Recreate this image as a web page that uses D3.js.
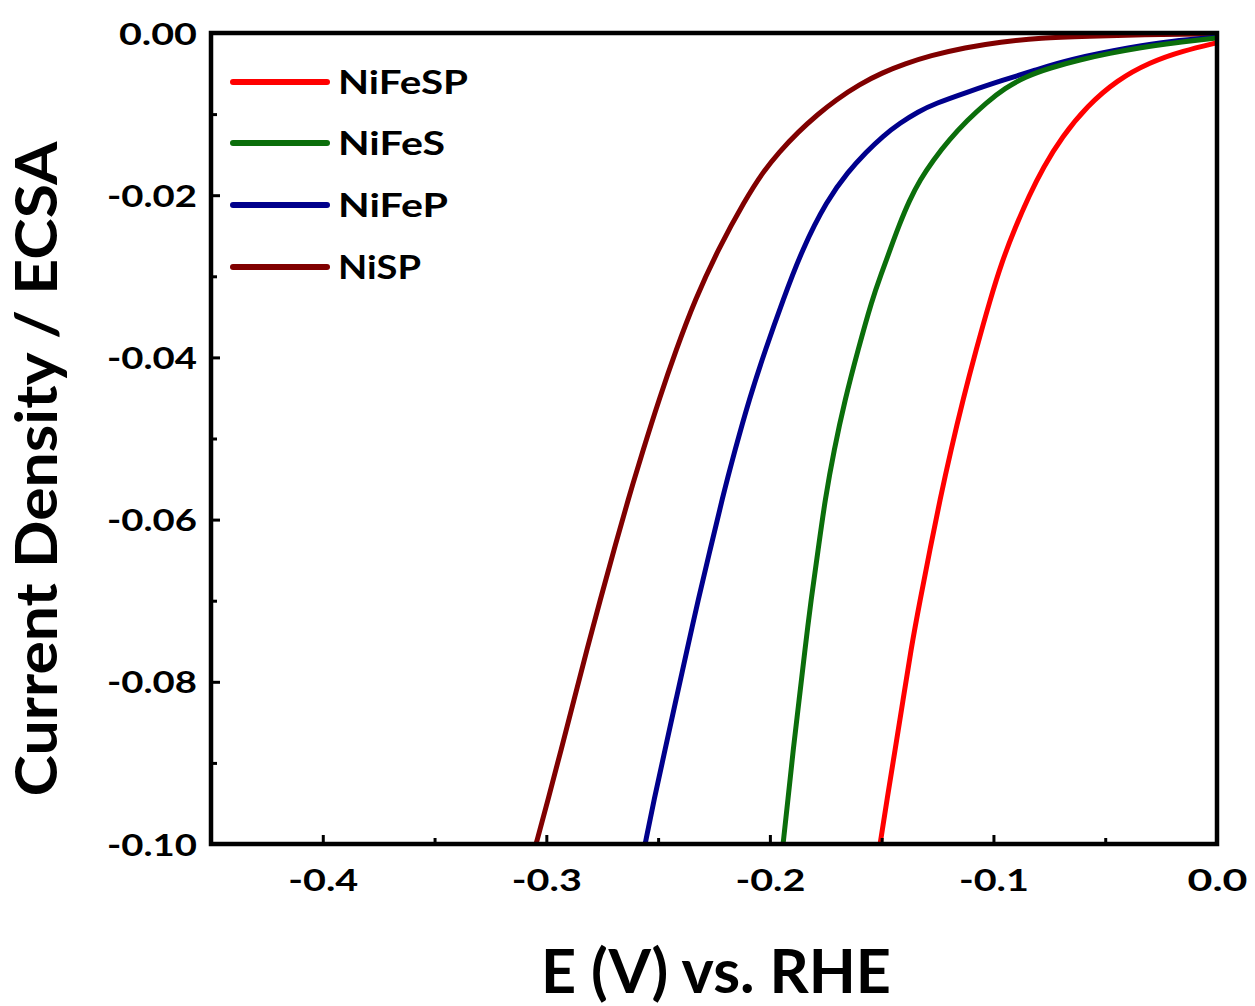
<!DOCTYPE html>
<html>
<head>
<meta charset="utf-8">
<script src="https://cdn.jsdelivr.net/npm/d3@7"></script>
<style>
  html, body { margin: 0; padding: 0; background: #fff; }
  svg { display: block; }
  text { font-family: Lato, "Open Sans", sans-serif; font-weight: 700; fill: #000; }
</style>
</head>
<body>
<svg id="chart" width="1255" height="1006"></svg>
<script>
// ---- Data (E in V vs RHE, current density / ECSA) ----
const seriesNames = ["NiFeSP", "NiFeS", "NiFeP", "NiSP"];
const seriesColors = ["#ff0000", "#0b6e0b", "#00008c", "#800000"];

const NiFeSP = [
  [-0.1507, -0.1000], [-0.1476, -0.0945], [-0.1440, -0.0884], [-0.1404, -0.0822],
  [-0.1369, -0.0760], [-0.1328, -0.0699], [-0.1284, -0.0637], [-0.1239, -0.0575],
  [-0.1190, -0.0514], [-0.1136, -0.0452], [-0.1078, -0.0391], [-0.1015, -0.0329],
  [-0.0962, -0.0282], [-0.0903, -0.0240], [-0.0841, -0.0201], [-0.0778, -0.0166],
  [-0.0693, -0.0128], [-0.0581, -0.0090], [-0.0447, -0.0058], [-0.0300, -0.0036],
  [-0.0152, -0.0022], [0.0000, -0.0012]
];
const NiFeS = [
  [-0.1941, -0.1000], [-0.1919, -0.0945], [-0.1896, -0.0884], [-0.1869, -0.0822],
  [-0.1843, -0.0760], [-0.1816, -0.0699], [-0.1784, -0.0637], [-0.1753, -0.0575],
  [-0.1713, -0.0514], [-0.1664, -0.0452], [-0.1606, -0.0391], [-0.1543, -0.0329],
  [-0.1503, -0.0298], [-0.1462, -0.0267], [-0.1422, -0.0237], [-0.1377, -0.0207],
  [-0.1328, -0.0181], [-0.1270, -0.0157], [-0.1199, -0.0132], [-0.1118, -0.0108],
  [-0.1033, -0.0086], [-0.0948, -0.0068], [-0.0859, -0.0054], [-0.0747, -0.0043],
  [-0.0613, -0.0033], [-0.0479, -0.0025], [-0.0344, -0.0018], [-0.0188, -0.0012],
  [0.0000, -0.0006]
];
const NiFeP = [
  [-0.2558, -0.1000], [-0.2518, -0.0945], [-0.2469, -0.0884], [-0.2420, -0.0822],
  [-0.2370, -0.0760], [-0.2321, -0.0699], [-0.2267, -0.0637], [-0.2214, -0.0575],
  [-0.2156, -0.0514], [-0.2093, -0.0452], [-0.2021, -0.0391], [-0.1941, -0.0329],
  [-0.1856, -0.0267], [-0.1744, -0.0206], [-0.1650, -0.0171], [-0.1570, -0.0147],
  [-0.1494, -0.0127], [-0.1418, -0.0111], [-0.1337, -0.0097], [-0.1261, -0.0087],
  [-0.1118, -0.0073], [-0.0957, -0.0058], [-0.0814, -0.0046], [-0.0671, -0.0033],
  [-0.0376, -0.0017], [-0.0210, -0.0010], [0.0000, -0.0005]
];
const NiSP = [
  [-0.3046, -0.1000], [-0.2992, -0.0945], [-0.2934, -0.0884], [-0.2876, -0.0822],
  [-0.2818, -0.0760], [-0.2759, -0.0699], [-0.2697, -0.0637], [-0.2634, -0.0575],
  [-0.2567, -0.0514], [-0.2496, -0.0452], [-0.2420, -0.0391], [-0.2335, -0.0329],
  [-0.2232, -0.0267], [-0.2111, -0.0206], [-0.2030, -0.0171], [-0.1959, -0.0147],
  [-0.1874, -0.0122], [-0.1784, -0.0100], [-0.1708, -0.0083], [-0.1597, -0.0063],
  [-0.1498, -0.0049], [-0.1395, -0.0038], [-0.1284, -0.0028], [-0.1127, -0.0018],
  [-0.0970, -0.0011], [-0.0792, -0.0006], [-0.0568, -0.0004], [-0.0344, -0.0002],
  [0.0000, -0.0001]
];
const allSeries = [NiFeSP, NiFeS, NiFeP, NiSP];

const xMajorTicks = [-0.4, -0.3, -0.2, -0.1, 0.0];
const xMinorTicks = [-0.35, -0.25, -0.15, -0.05];
const yMajorTicks = [0.00, -0.02, -0.04, -0.06, -0.08, -0.10];
const yMinorTicks = [-0.01, -0.03, -0.05, -0.07, -0.09];
const xTitle = "E (V) vs. RHE";
const yTitle = "Current Density / ECSA";

// ---- Layout ----
const plot = { left: 211, right: 1217, top: 33, bottom: 844 };
const svg = d3.select("#chart");

const x = d3.scaleLinear().domain([-0.45, 0]).range([plot.left, plot.right]);
const y = d3.scaleLinear().domain([-0.10, 0]).range([plot.bottom, plot.top]);

svg.append("defs").append("clipPath").attr("id", "clip")
  .append("rect")
  .attr("x", plot.left).attr("y", plot.top)
  .attr("width", plot.right - plot.left).attr("height", plot.bottom - plot.top);

// Curves
const line = d3.line()
  .x(d => x(d[0])).y(d => y(d[1]))
  .curve(d3.curveBasis);

const curves = svg.append("g").attr("clip-path", "url(#clip)");
for (let idx = allSeries.length - 1; idx >= 0; idx--) {
  curves.append("path")
    .datum(allSeries[idx])
    .attr("d", line)
    .attr("fill", "none")
    .attr("stroke", seriesColors[idx])
    .attr("stroke-width", 5)
    .attr("stroke-linejoin", "round")
    .attr("stroke-linecap", "round");
}

// Axes: inward ticks, hyphen minus
const hy = s => s.replace("\u2212", "-");
const fmtX = d => (Math.abs(d) < 1e-9 ? "0.0" : hy(d3.format(".1f")(d)));
const fmtY = d => (Math.abs(d) < 1e-9 ? "0.00" : hy(d3.format(".2f")(d)));

const xAxis = svg.append("g").attr("transform", `translate(0,${plot.bottom})`)
  .call(d3.axisBottom(x).tickValues(xMajorTicks).tickSize(-9).tickPadding(26).tickFormat(fmtX));
const xMinor = svg.append("g").attr("transform", `translate(0,${plot.bottom})`)
  .call(d3.axisBottom(x).tickValues(xMinorTicks).tickSize(-6).tickFormat(""));
const yAxis = svg.append("g").attr("transform", `translate(${plot.left},0)`)
  .call(d3.axisLeft(y).tickValues(yMajorTicks).tickSize(-9).tickPadding(14).tickFormat(fmtY));
const yMinor = svg.append("g").attr("transform", `translate(${plot.left},0)`)
  .call(d3.axisLeft(y).tickValues(yMinorTicks).tickSize(-6).tickFormat(""));

[xAxis, xMinor, yAxis, yMinor].forEach(g => {
  g.select(".domain").remove();
  g.selectAll(".tick line").attr("stroke", "#000").attr("stroke-width", 3);
});
xAxis.selectAll(".tick text")
  .attr("font-size", 30).attr("font-family", "Lato").attr("font-weight", 700)
  .attr("fill", "#000").attr("dy", "0.71em")
  .each(function(d) {
    const w = Math.abs(d) < 1e-9 ? 60 : 70;
    d3.select(this).attr("textLength", w).attr("lengthAdjust", "spacingAndGlyphs");
  });
yAxis.selectAll(".tick text")
  .attr("font-size", 31).attr("font-family", "Lato").attr("font-weight", 700)
  .attr("fill", "#000").attr("dy", "0.36em")
  .each(function(d) {
    const w = Math.abs(d) < 1e-9 ? 78 : 90;
    d3.select(this).attr("textLength", w).attr("lengthAdjust", "spacingAndGlyphs");
  });

// Frame
svg.append("rect")
  .attr("x", plot.left).attr("y", plot.top)
  .attr("width", plot.right - plot.left).attr("height", plot.bottom - plot.top)
  .attr("fill", "none").attr("stroke", "#000").attr("stroke-width", 4.5);

// Legend
const legendYs = [82, 143, 205, 267];
const legendWidths = [130, 107, 110, 83];
const legend = svg.append("g");
seriesNames.forEach((name, i) => {
  legend.append("line")
    .attr("x1", 233).attr("x2", 327)
    .attr("y1", legendYs[i]).attr("y2", legendYs[i])
    .attr("stroke", seriesColors[i]).attr("stroke-width", 6)
    .attr("stroke-linecap", "round");
  legend.append("text")
    .attr("x", 338).attr("y", legendYs[i] + 11.5)
    .attr("font-size", 32)
    .attr("fill", seriesColors[i])
    .attr("textLength", legendWidths[i]).attr("lengthAdjust", "spacingAndGlyphs")
    .text(name);
});

// Axis titles
svg.append("text")
  .attr("x", 716).attr("y", 993)
  .attr("text-anchor", "middle")
  .attr("font-size", 62)
  .attr("textLength", 350).attr("lengthAdjust", "spacingAndGlyphs")
  .text(xTitle);

svg.append("text")
  .attr("transform", "translate(57,469) rotate(-90)")
  .attr("text-anchor", "middle")
  .attr("font-size", 57)
  .attr("textLength", 655).attr("lengthAdjust", "spacingAndGlyphs")
  .text(yTitle);
</script>
</body>
</html>
